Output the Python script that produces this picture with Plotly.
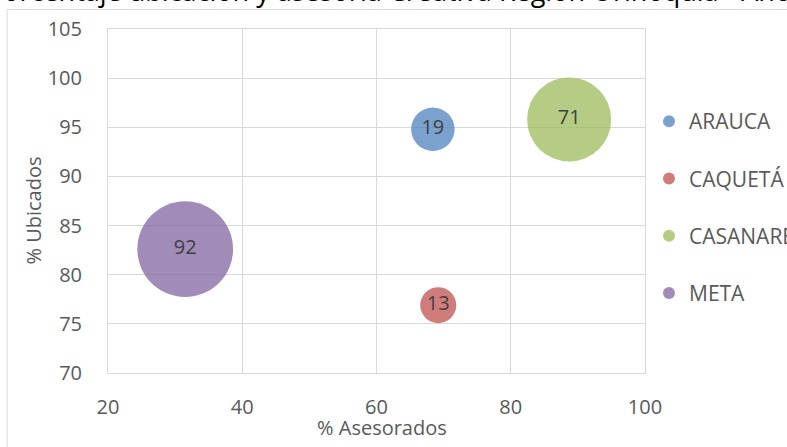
import plotly.graph_objects as go

departments = ["ARAUCA", "CAQUETÁ", "CASANARE", "META"]
asesorados = [68.4, 69.2, 88.7, 31.5]
ubicados = [94.8, 76.9, 95.8, 82.6]
bubble_values = [19, 13, 71, 92]
colors = ["rgba(79,129,189,0.75)", "rgba(192,80,77,0.75)",
          "rgba(155,187,89,0.75)", "rgba(128,100,162,0.75)"]
title_text = "Porcentaje ubicación y asesoría Creativa Región Orinoquía - Año"
x_title = "% Asesorados"
y_title = "% Ubicados"

W, H = 787, 447
L, R, T, B = 107.5, 142, 29, 74
pw, ph = W - L - R, H - T - B

FONT = "Open Sans"
GREY = "#595959"
FS = 20

max_d = 95.7
sizeref = 2.0 * max(bubble_values) / (max_d ** 2)

fig = go.Figure()
for i, name in enumerate(departments):
    fig.add_trace(go.Scatter(
        x=[asesorados[i]], y=[ubicados[i]],
        mode="markers+text",
        name=name,
        legendgroup=name,
        text=[str(bubble_values[i])],
        textposition="middle center",
        textfont=dict(family=FONT, size=FS, color="#404040"),
        marker=dict(size=[bubble_values[i]], sizemode="area", sizeref=sizeref,
                    color=colors[i], opacity=1, line=dict(width=0)),
        hoverinfo="skip",
    ))

def px_x(p):
    return (p - L) / pw

def px_y(p):
    return 1 - (p - T) / ph

fig.add_shape(type="rect", xref="paper", yref="paper",
              x0=px_x(6.5), x1=px_x(W + 50), y0=px_y(H + 50), y1=px_y(9.5),
              line=dict(color="#D9D9D9", width=1), fillcolor="rgba(0,0,0,0)",
              layer="below")

fig.add_annotation(text=title_text, xref="paper", yref="paper",
                   x=px_x(-16), y=px_y(11.5), xanchor="left", yanchor="bottom",
                   showarrow=False, font=dict(family=FONT, size=27, color="#000000"))

fig.add_annotation(text=x_title, xref="paper", yref="paper",
                   x=px_x(381.5), y=px_y(427), xanchor="center", yanchor="middle",
                   showarrow=False, font=dict(family=FONT, size=FS, color=GREY))
fig.add_annotation(text=y_title, xref="paper", yref="paper", textangle=-90,
                   x=px_x(32), y=px_y(211), xanchor="center", yanchor="middle",
                   showarrow=False, font=dict(family=FONT, size=FS, color=GREY))

fig.update_layout(
    width=W, height=H,
    margin=dict(l=L, r=R, t=T, b=B, pad=0, autoexpand=False),
    paper_bgcolor="white", plot_bgcolor="white",
    showlegend=True,
    legend=dict(xref="container", yref="container",
                x=649 / W, y=1 - 101 / H, xanchor="left", yanchor="top",
                font=dict(family=FONT, size=21, color=GREY),
                itemsizing="constant", tracegroupgap=27,
                bgcolor="rgba(0,0,0,0)"),
    xaxis=dict(range=[20, 100], dtick=20, tick0=20, automargin=False,
               showgrid=True, gridcolor="#D9D9D9", gridwidth=1,
               showline=True, linecolor="#D9D9D9", mirror=True, zeroline=False,
               tickfont=dict(family=FONT, size=FS, color=GREY),
               ticklabelstandoff=16),
    yaxis=dict(range=[70, 105], dtick=5, tick0=70, automargin=False,
               showgrid=True, gridcolor="#D9D9D9", gridwidth=1,
               showline=True, linecolor="#D9D9D9", mirror=True, zeroline=False,
               tickfont=dict(family=FONT, size=FS, color=GREY),
               ticklabelstandoff=21),
)

fig.write_html("out.html", config={"displayModeBar": False},
               post_script="document.body.style.margin='0';document.body.style.overflow='hidden';")
